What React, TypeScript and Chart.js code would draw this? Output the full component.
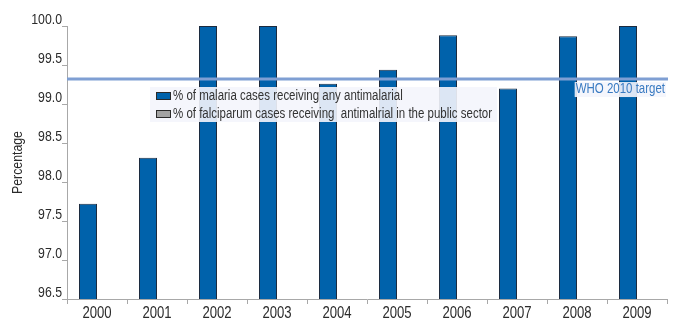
import React, { useEffect, useRef } from "react";
import { Chart, registerables } from "chart.js";

Chart.register(...registerables);

const categories = ["2000", "2001", "2002", "2003", "2004", "2005", "2006", "2007", "2008", "2009"];
const malariaAny = [97.72, 98.31, 100.0, 100.0, 99.26, 99.44, 99.88, 99.2, 99.87, 100.0];
const falciparumPublic: (number | null)[] = [null, null, null, null, null, null, null, null, null, null];
const targetValue = 99.32;
const targetLabel = "WHO 2010 target";
const seriesLabels = [
  "% of malaria cases receiving any antimalarial",
  "% of falciparum cases receiving  antimalrial in the public sector",
];
const yMin = 96.5;
const yMax = 100.0;
const yStep = 0.5;

const FONT = "'Liberation Sans', Arial, sans-serif";
const SX = 0.82; // horizontal condensing of all text

const condensePlugin = {
  id: "condensePlugin",
  beforeInit(chart: any) {
    const ctx = chart.ctx;
    const origFill = ctx.fillText.bind(ctx);
    const origMeasure = ctx.measureText.bind(ctx);
    ctx.fillText = (text: string, x: number, y: number, maxWidth?: number) => {
      ctx.save();
      ctx.translate(x, y);
      ctx.scale(SX, 1);
      if (maxWidth !== undefined) origFill(text, 0, 0, maxWidth / SX);
      else origFill(text, 0, 0);
      ctx.restore();
    };
    ctx.measureText = (text: string) => {
      const m = origMeasure(text);
      return {
        width: m.width * SX,
        actualBoundingBoxAscent: m.actualBoundingBoxAscent,
        actualBoundingBoxDescent: m.actualBoundingBoxDescent,
        actualBoundingBoxLeft: m.actualBoundingBoxLeft * SX,
        actualBoundingBoxRight: m.actualBoundingBoxRight * SX,
      };
    };
  },
};

const overlayPlugin = {
  id: "overlayPlugin",
  afterDatasetsDraw(chart: any) {
    const { ctx, chartArea, scales } = chart;
    const y = scales.y.getPixelForValue(targetValue);
    ctx.save();
    // target line
    ctx.strokeStyle = "#7f9fd3";
    ctx.lineWidth = 3;
    ctx.beginPath();
    ctx.moveTo(chartArea.left, y);
    ctx.lineTo(chartArea.right + 1, y);
    ctx.stroke();

    // target label
    ctx.font = `14px ${FONT}`;
    const tw = ctx.measureText(targetLabel).width;
    const lx = chartArea.right - tw - 2;
    ctx.fillStyle = "rgba(244,245,252,0.9)";
    ctx.fillRect(lx - 1, y + 3, tw + 2, 15);
    ctx.fillStyle = "#3a7bc2";
    ctx.textBaseline = "middle";
    ctx.textAlign = "left";
    ctx.fillText(targetLabel, lx, y + 10.5);

    // legend
    const legX = 150;
    const legY = 87;
    ctx.fillStyle = "rgba(244,245,252,0.9)";
    ctx.fillRect(legX, legY, 347, 35);
    ctx.font = `14px ${FONT}`;
    const ds = chart.data.datasets;
    ds.forEach((d: any, i: number) => {
      const rowY = legY + 9 + i * 18;
      ctx.fillStyle = d.backgroundColor;
      ctx.fillRect(156, rowY - 3.5, 14, 7);
      ctx.strokeStyle = "#2a2a2a";
      ctx.lineWidth = 1;
      ctx.strokeRect(156.5, rowY - 3.5, 14, 7);
      ctx.fillStyle = "#333333";
      ctx.fillText(d.label, 173, rowY);
    });
    ctx.restore();
  },
};

export default function App() {
  const ref = useRef<HTMLCanvasElement | null>(null);
  useEffect(() => {
    document.body.style.margin = "0";
    const canvas = ref.current;
    if (!canvas) return;
    const chart = new Chart(canvas, {
      type: "bar",
      data: {
        labels: categories,
        datasets: [
          {
            label: seriesLabels[0],
            data: malariaAny,
            backgroundColor: "#0062ab",
            borderColor: "#1c2b3f",
            borderWidth: 1,
            categoryPercentage: 0.6,
            barPercentage: 1.0,
          },
          {
            label: seriesLabels[1],
            data: falciparumPublic,
            backgroundColor: "#a3a3a3",
            borderColor: "#333333",
            borderWidth: 1,
            categoryPercentage: 0.6,
            barPercentage: 1.0,
          },
        ],
      },
      options: {
        animation: false,
        responsive: false,
        layout: { padding: { left: 0, right: 9, top: 26, bottom: 0 } },
        plugins: {
          legend: { display: false },
          tooltip: { enabled: false },
        },
        scales: {
          x: {
            offset: true,
            grid: {
              offset: true,
              drawOnChartArea: false,
              drawTicks: true,
              tickLength: 5,
              color: "#a8a8a8",
            },
            border: { color: "#a8a8a8", width: 1 },
            ticks: {
              color: "#2b2b2b",
              font: { family: FONT, size: 16 },
              padding: 0,
              maxRotation: 0,
              autoSkip: false,
            },
            afterFit: (s: any) => {
              s.height = 26;
            },
          },
          y: {
            min: yMin,
            max: yMax,
            grid: {
              drawOnChartArea: false,
              drawTicks: true,
              tickLength: 5,
              color: "#a8a8a8",
            },
            border: { color: "#a8a8a8", width: 1 },
            ticks: {
              stepSize: yStep,
              color: "#2b2b2b",
              font: { family: FONT, size: 15 },
              padding: 0,
              labelOffset: -6,
              callback: (v: any) => Number(v).toFixed(1),
            },
            title: {
              display: true,
              text: "Percentage",
              color: "#2b2b2b",
              font: { family: FONT, size: 15 },
              padding: { top: 9, bottom: 0 },
            },
            afterFit: (s: any) => {
              s.width = 67;
            },
          },
        },
      },
      plugins: [condensePlugin, overlayPlugin],
    });
    return () => chart.destroy();
  }, []);
  return (
    <div style={{ width: 676, height: 325 }}>
      <canvas ref={ref} width={676} height={325} style={{ display: "block" }} />
    </div>
  );
}
